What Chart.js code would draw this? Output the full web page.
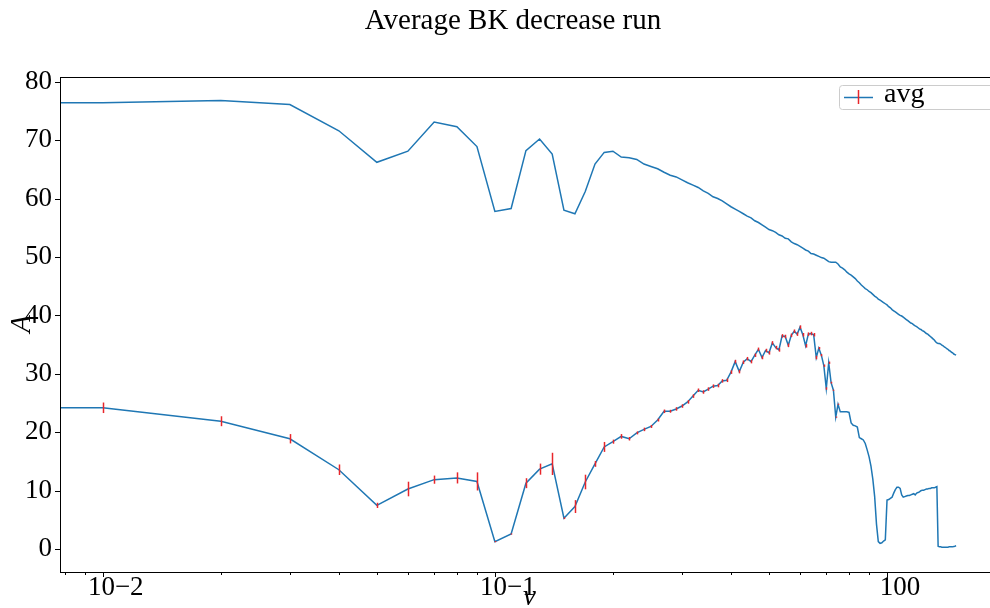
<!DOCTYPE html>
<html>
<head>
<meta charset="utf-8">
<script src="https://cdn.jsdelivr.net/npm/chart.js@4.4.0/dist/chart.umd.min.js"></script>
<style>
  html, body { margin: 0; padding: 0; overflow: hidden; background: #fff; }
</style>
</head>
<body>
<canvas id="runChart" width="1000" height="608"></canvas>
<script>
// nu grid: 0 (clipped to the left edge on the log axis) then 0.01 .. 1.50 in steps of 0.01
const nu = [0].concat(Array.from({ length: 150 }, (_, i) => (i + 1) / 100));

// upper curve (no legend entry)
const upperAvg = [
  76.4,
  76.4, 76.8, 76.1, 71.6, 66.2, 68.1, 73.1, 72.3, 68.9, 57.8,
  58.3, 68.2, 70.2, 67.6, 58.0, 57.4, 61.2, 65.9, 67.9, 68.1,
  67.1, 67.0, 66.7, 65.9, 65.5, 65.1, 64.5, 64.0, 63.7, 63.2,
  62.7, 62.3, 61.9, 61.3, 60.9, 60.3, 60.0, 59.6, 59.1, 58.6,
  58.2, 57.8, 57.4, 57.0, 56.7, 56.2, 55.9, 55.5, 55.1, 54.7,
  54.5, 54.2, 53.8, 53.6, 53.2, 53.1, 52.6, 52.3, 52.1, 51.8,
  51.5, 51.2, 51.0, 50.6, 50.5, 50.3, 50.1, 49.9, 49.8, 49.5,
  49.2, 49.1, 49.1, 49.1, 48.8, 48.3, 48.1, 47.8, 47.4, 47.1,
  46.9, 46.6, 46.3, 45.9, 45.6, 45.2, 44.9, 44.6, 44.4, 44.1,
  43.9, 43.6, 43.3, 43.1, 42.8, 42.6, 42.4, 42.2, 42.0, 41.8,
  41.5, 41.3, 41.0, 40.8, 40.6, 40.4, 40.2, 40.0, 39.9, 39.7,
  39.5, 39.3, 39.1, 38.9, 38.7, 38.6, 38.4, 38.2, 38.1, 37.9,
  37.7, 37.6, 37.4, 37.3, 37.1, 36.9, 36.8, 36.6, 36.4, 36.2,
  36.0, 35.8, 35.5, 35.3, 35.2, 35.2, 35.1, 34.9, 34.8, 34.6,
  34.5, 34.3, 34.2, 34.0, 33.9, 33.7, 33.6, 33.4, 33.3, 33.2
];

// "avg" curve with error bars
const lowerAvg = [
  24.2,
  24.2, 21.9, 18.9, 13.6, 7.5, 10.3, 11.9, 12.2, 11.6, 1.3,
  2.6, 11.3, 13.7, 14.6, 5.3, 7.3, 11.5, 14.6, 17.5, 18.4,
  19.3, 18.9, 19.9, 20.5, 21.0, 22.1, 23.6, 23.6, 24.0, 24.5,
  25.2, 26.2, 27.2, 26.9, 27.4, 27.9, 28.0, 28.8, 28.9, 30.3,
  32.1, 30.4, 32.0, 32.6, 32.1, 33.2, 34.2, 32.8, 34.0, 33.6,
  35.3, 34.5, 34.1, 36.5, 36.4, 34.9, 36.6, 37.3, 36.8, 38.0,
  36.7, 34.8, 36.8, 36.9, 36.7, 32.8, 34.4, 33.2, 31.4, 27.5,
  31.9, 28.5, 27.2, 22.6, 24.8, 23.5, 23.5, 23.5, 23.5, 23.4,
  21.6, 21.2, 21.1, 20.9, 19.1, 18.9, 18.7, 18.1, 17.0, 15.8,
  14.2, 12.0, 9.0, 4.3, 1.3, 1.0, 1.1, 1.4, 1.6, 8.4,
  8.5, 8.7, 8.9, 9.6, 10.2, 10.6, 10.6, 10.4, 9.3, 8.9,
  9.0, 9.1, 9.2, 9.2, 9.3, 9.4, 9.5, 9.3, 9.6, 9.7,
  9.8, 10.0, 10.1, 10.1, 10.2, 10.3, 10.3, 10.4, 10.4, 10.5,
  10.5, 10.5, 10.6, 10.7, 0.5, 0.4, 0.4, 0.35, 0.35, 0.35,
  0.35, 0.35, 0.35, 0.4, 0.4, 0.4, 0.4, 0.45, 0.5, 0.6
];

const lowerErr = [
  0,
  0.9, 0.85, 0.8, 0.9, 0.45, 1.25, 0.7, 0.95, 1.55, 0.1,
  0.1, 0.85, 0.95, 1.9, 0.15, 1.1, 1.25, 0.5, 0.85, 0.35,
  0.4, 0.3, 0.25, 0.3, 0.25, 0.25, 0.3, 0.25, 0.3, 0.3,
  0.3, 0.3, 0.3, 0.3, 0.3, 0.3, 0.3, 0.3, 0.3, 0.3,
  0.3, 0.3, 0.3, 0.3, 0.3, 0.3, 0.3, 0.3, 0.3, 0.3,
  0.3, 0.3, 0.3, 0.3, 0.3, 0.3, 0.3, 0.3, 0.3, 0.3,
  0.3, 0.3, 0.3, 0.3, 0.3, 0.3, 0.2, 0.2, 0.2, 0.2,
  0.2, 0.15, 0.1, 0.1, 0.1, 0, 0, 0, 0, 0,
  0, 0, 0, 0, 0, 0, 0, 0, 0, 0,
  0, 0, 0, 0, 0, 0, 0, 0, 0, 0,
  0, 0, 0, 0, 0, 0, 0, 0, 0, 0,
  0, 0, 0, 0, 0, 0, 0, 0, 0, 0,
  0, 0, 0, 0, 0, 0, 0, 0, 0, 0,
  0, 0, 0, 0, 0, 0, 0, 0, 0, 0,
  0, 0, 0, 0, 0, 0, 0, 0, 0, 0
];

const xTickValues = [0.01, 0.1, 1];
const xTickLabels = ['10\u22122', '10\u22121', '100'];
const yTickValues = [0, 10, 20, 30, 40, 50, 60, 70, 80];

const titleText = 'Average BK decrease run';
const xTitle = '\u03bd';
const yTitle = 'A';

const SERIF = '"Liberation Serif", "Times New Roman", serif';
const BLUE = '#1f77b4';
const RED = '#e8262b';

const toPoints = ys => nu.map((x, i) => ({ x: x, y: ys[i] }));

// error bars, frame, ticks, titles and legend drawn the matplotlib way
const mplLook = {
  id: 'mplLook',
  afterDatasetsDraw(chart) {
    const { ctx, chartArea: a } = chart;
    const xs = chart.scales.x, ys = chart.scales.y;
    ctx.save();
    ctx.beginPath();
    ctx.rect(a.left, a.top, a.right - a.left, a.bottom - a.top);
    ctx.clip();
    ctx.strokeStyle = RED;
    ctx.lineWidth = 1.5;
    nu.forEach((v, i) => {
      if (v <= 0 || lowerErr[i] <= 0) return;
      const px = Math.round(xs.getPixelForValue(v)) + 0.5;
      ctx.beginPath();
      ctx.moveTo(px, ys.getPixelForValue(lowerAvg[i] - lowerErr[i]));
      ctx.lineTo(px, ys.getPixelForValue(lowerAvg[i] + lowerErr[i]));
      ctx.stroke();
    });
    ctx.restore();
  },
  afterDraw(chart) {
    const { ctx, chartArea: a } = chart;
    const xs = chart.scales.x, ys = chart.scales.y;
    ctx.save();
    ctx.strokeStyle = '#000';
    ctx.lineWidth = 1;
    ctx.strokeRect(Math.round(a.left) + 0.5, Math.round(a.top) + 0.5,
      Math.round(a.right - a.left), Math.round(a.bottom - a.top));

    // y ticks
    yTickValues.forEach(v => {
      const py = Math.round(ys.getPixelForValue(v)) + 0.5;
      ctx.beginPath();
      ctx.moveTo(a.left - 5, py);
      ctx.lineTo(a.left, py);
      ctx.stroke();
    });
    // x major + minor ticks
    for (let d = -3; d <= 0; d++) {
      for (let m = 1; m <= 9; m++) {
        const v = m * Math.pow(10, d);
        if (v < xs.min || v > xs.max) continue;
        const px = Math.round(xs.getPixelForValue(v)) + 0.5;
        ctx.beginPath();
        ctx.moveTo(px, a.bottom);
        ctx.lineTo(px, a.bottom + (m === 1 ? 5 : 3));
        ctx.stroke();
      }
    }

    ctx.fillStyle = '#000';
    ctx.textAlign = 'center';
    ctx.textBaseline = 'middle';
    ctx.font = '29px ' + SERIF;
    ctx.fillText(titleText, 513, 21);

    ctx.font = 'italic 29px ' + SERIF;
    ctx.fillText(xTitle, (a.left + a.right) / 2, 597);

    ctx.save();
    ctx.translate(22, 324);
    ctx.rotate(-Math.PI / 2);
    ctx.fillText(yTitle, 0, 0);
    ctx.restore();

    // legend
    const lx = 839.5, ly = 85.5, lw = 180, lh = 24;
    ctx.beginPath();
    ctx.roundRect(lx, ly, lw, lh, 3);
    ctx.fillStyle = 'rgba(255,255,255,0.8)';
    ctx.fill();
    ctx.strokeStyle = '#cccccc';
    ctx.stroke();
    ctx.strokeStyle = BLUE;
    ctx.lineWidth = 1.5;
    ctx.beginPath();
    ctx.moveTo(844, 97.5);
    ctx.lineTo(873, 97.5);
    ctx.stroke();
    ctx.strokeStyle = RED;
    ctx.beginPath();
    ctx.moveTo(858.5, 90);
    ctx.lineTo(858.5, 104);
    ctx.stroke();
    ctx.fillStyle = '#000';
    ctx.textAlign = 'left';
    ctx.textBaseline = 'alphabetic';
    ctx.font = '28px ' + SERIF;
    ctx.fillText(chart.data.datasets[0].label, 884, 102);
    ctx.restore();
  }
};

const ctx = document.getElementById('runChart').getContext('2d');
const runChart = new Chart(ctx, {
  type: 'line',
  data: {
    datasets: [{
      label: 'avg',
      data: toPoints(lowerAvg),
      borderColor: BLUE,
      borderWidth: 1.5,
      pointRadius: 0,
      tension: 0,
      fill: false
    }, {
      label: '',
      data: toPoints(upperAvg),
      borderColor: BLUE,
      borderWidth: 1.5,
      pointRadius: 0,
      tension: 0,
      fill: false
    }]
  },
  options: {
    responsive: false,
    animation: false,
    layout: { padding: { top: 77, right: 1, left: 0, bottom: 0 } },
    plugins: {
      legend: { display: false },
      tooltip: { enabled: false },
      title: { display: false }
    },
    scales: {
      x: {
        type: 'logarithmic',
        min: 0.00778,
        max: 1.93,
        grid: { display: false, drawTicks: false },
        border: { display: false },
        afterBuildTicks: s => { s.ticks = xTickValues.map(v => ({ value: v })); },
        afterFit: s => { s.height = 36; },
        ticks: {
          autoSkip: false,
          maxRotation: 0,
          padding: 0,
          labelOffset: 13,
          color: '#000',
          font: { family: SERIF, size: 27 },
          callback: (v, i) => xTickLabels[i]
        }
      },
      y: {
        min: -3.9,
        max: 80.8,
        grid: { display: false, drawTicks: false },
        border: { display: false },
        afterBuildTicks: s => { s.ticks = yTickValues.map(v => ({ value: v })); },
        afterFit: s => { s.width = 60; },
        ticks: {
          padding: 8,
          color: '#000',
          font: { family: SERIF, size: 27 }
        }
      }
    }
  },
  plugins: [mplLook]
});
</script>
</body>
</html>
